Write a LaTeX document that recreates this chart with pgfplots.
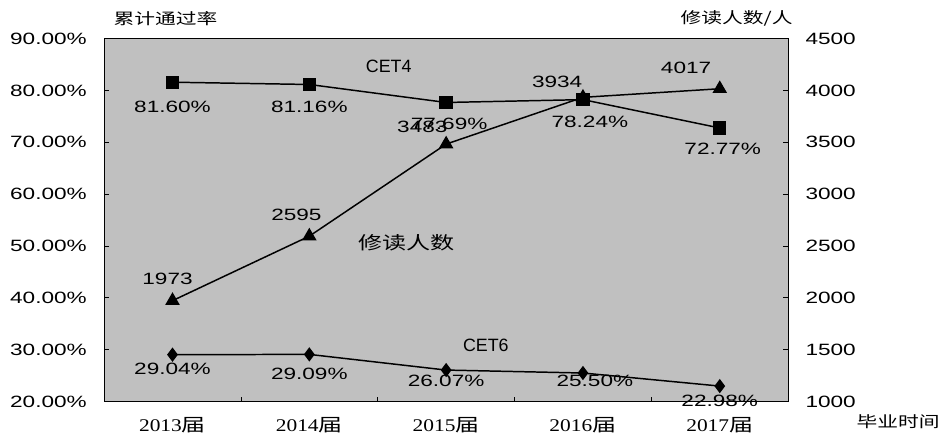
\documentclass[border=0pt]{standalone}
\usepackage{fontspec}
\setmainfont{Liberation Sans}[FakeStretch=1.38]
\newfontfamily\plainsans{Liberation Sans}
\newfontfamily\serifnum{Liberation Serif}[FakeStretch=1.2]
\newfontfamily\cjk{Noto Sans CJK SC}[FakeStretch=1.35]
\usepackage{pgfplots}
\pgfplotsset{compat=1.18}
\usepackage{pgfplotstable}
\definecolor{plotgray}{RGB}{192,192,192}
\newcommand\tl{\fontsize{16.5bp}{18bp}\selectfont}
\newcommand\cl{\fontsize{18bp}{20bp}\selectfont\plainsans}
\newcommand\cat[1]{{\fontsize{18bp}{20bp}\selectfont\serifnum #1\cjk 届}}

\pgfplotstableread{
x y dx dy
0 81.60 0 -25
1 81.16 0 -23
2 77.69 3 -22
3 78.24 7 -22
4 72.77 3 -21
}\cetfour
\pgfplotstableread{
x y dx dy
0 29.04 0 -14
1 29.09 0 -20
2 26.07 0 -11
3 25.50 12 -8
4 22.98 0 -15
}\cetsix
\pgfplotstableread{
x y dx dy
0 1973 -5 22
1 2595 -13 21
2 3483 -24 17
3 3934 -26 16
4 4017 -34 21
}\enroll

\begin{document}
\begin{tikzpicture}
\pgfplotsset{
  common/.style={
    width=690bp, height=366bp, scale only axis,
    xmin=-0.5, xmax=4.5, clip=false,
    tick align=inside,
    major tick length=5bp,
    tick style={black, line width=0.8bp},
    axis line style={black, line width=0.9bp},
    /pgf/number format/assume math mode=true,
    ticklabel style={font=\tl},
    visualization depends on={\thisrow{dx} \as \dx},
    visualization depends on={\thisrow{dy} \as \dy},
    every node near coord/.append style={anchor=center, xshift=\dx bp, yshift=\dy bp, font=\tl, black},
  },
}
\begin{axis}[common,
  axis background/.style={fill=plotgray},
  ymin=20, ymax=90, ytick={20,30,...,90},
  ytick pos=left, xtick pos=bottom,
  yticklabel={\pgfmathprintnumber[fixed,fixed zerofill,precision=2]{\tick}\%},
  yticklabel style={xshift=-14bp},
  xtick={0,1,2,3,4},
  xticklabels={\cat{2013},\cat{2014},\cat{2015},\cat{2016},\cat{2017}},
  xticklabel style={yshift=-12bp},
  minor xtick={0.5,1.5,2.5,3.5},
  major x tick style={draw=none},
  minor tick length=5bp,
]
\addplot[black, line width=1.5bp, mark=square*, mark size=6bp, mark options={solid},
  point meta=explicit symbolic, nodes near coords={\pgfplotspointmeta\%}]
  table[x=x, y=y, meta=y] {\cetfour};
\addplot[black, line width=1.5bp, mark=diamond*, mark size=6bp, mark options={solid},
  point meta=explicit symbolic, nodes near coords={\pgfplotspointmeta\%}]
  table[x=x, y=y, meta=y] {\cetsix};
\node[font=\cl] at (axis cs:1.58,84.6) {CET4};
\node[font=\cl] at (axis cs:2.29,30.8) {CET6};
\node[font=\fontsize{18bp}{20bp}\selectfont\cjk] at (axis cs:1.71,50.6) {修读人数};
\node[font=\fontsize{15.5bp}{17bp}\selectfont\cjk] at ([xshift=62bp,yshift=20bp]rel axis cs:0,1) {累计通过率};
\node[font=\fontsize{15.5bp}{17bp}\selectfont\cjk] at ([xshift=-52bp,yshift=20bp]rel axis cs:1,1) {修读人数/人};
\node[font=\fontsize{15.5bp}{17bp}\selectfont\cjk] at ([xshift=111bp,yshift=-20bp]rel axis cs:1,0) {毕业时间};
\path ([xshift=-105bp,yshift=-32bp]rel axis cs:0,0) rectangle ([xshift=148bp,yshift=39bp]rel axis cs:1,1);
\end{axis}
\begin{axis}[common,
  ymin=1000, ymax=4500, ytick={1000,1500,...,4500},
  axis y line*=right, axis x line=none,
  yticklabel style={xshift=14bp, /pgf/number format/1000 sep={}},
]
\addplot[black, line width=1.5bp, mark=triangle*, mark size=7bp, mark options={solid},
  point meta=explicit symbolic, nodes near coords]
  table[x=x, y=y, meta=y] {\enroll};
\end{axis}
\end{tikzpicture}
\end{document}
